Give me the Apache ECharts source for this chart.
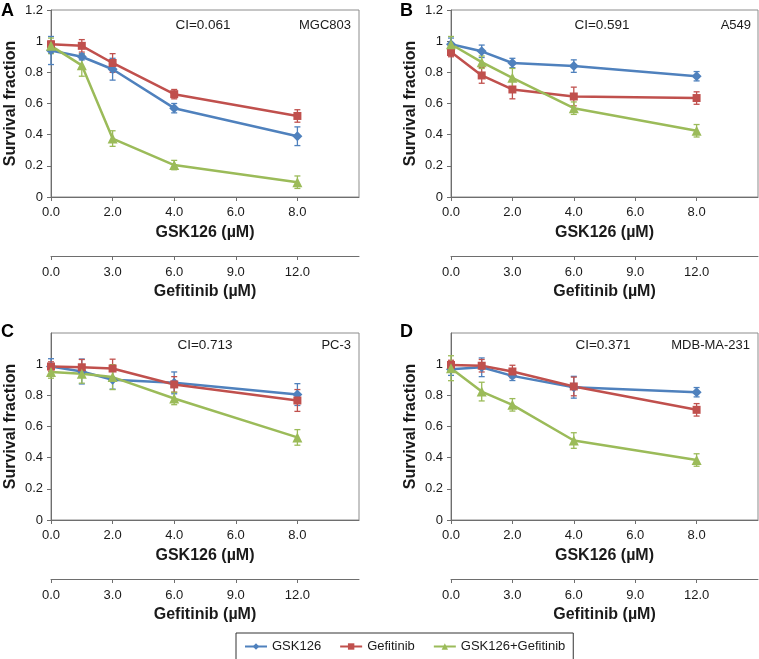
<!DOCTYPE html>
<html><head><meta charset="utf-8">
<script src="https://cdn.jsdelivr.net/npm/echarts@6/dist/echarts.min.js"></script>
<style>html,body{margin:0;padding:0;background:#fff}#c{width:759px;height:659px}</style>
</head><body><div id="c"></div>
<script>
// ---- data ----
const doses = [0, 1, 2, 4, 8];
const seriesNames = ['GSK126', 'Gefitinib', 'GSK126+Gefitinib'];
const panelLetters = ['A', 'B', 'C', 'D'];
const cellLines = ['MGC803', 'A549', 'PC-3', 'MDB-MA-231'];
const ciLabels = ['CI=0.061', 'CI=0.591', 'CI=0.713', 'CI=0.371'];

// Panel A (MGC803)
const aGsk = [0.94, 0.90, 0.82, 0.57, 0.39];
const aGskErr = [0.09, 0.02, 0.07, 0.03, 0.06];
const aGef = [0.98, 0.97, 0.86, 0.66, 0.52];
const aGefErr = [0.02, 0.04, 0.06, 0.03, 0.04];
const aCombo = [0.97, 0.845, 0.375, 0.205, 0.095];
const aComboErr = [0.05, 0.07, 0.05, 0.03, 0.04];
// Panel B (A549)
const bGsk = [0.98, 0.935, 0.86, 0.84, 0.775];
const bGskErr = [0.04, 0.04, 0.03, 0.04, 0.03];
const bGef = [0.93, 0.78, 0.69, 0.645, 0.635];
const bGefErr = [0.03, 0.05, 0.06, 0.06, 0.04];
const bCombo = [0.98, 0.865, 0.765, 0.57, 0.425];
const bComboErr = [0.05, 0.04, 0.06, 0.04, 0.04];
// Panel C (PC-3)
const cGsk = [0.985, 0.953, 0.90, 0.88, 0.805];
const cGskErr = [0.05, 0.08, 0.06, 0.07, 0.07];
const cGef = [0.985, 0.98, 0.972, 0.87, 0.767];
const cGefErr = [0.03, 0.05, 0.06, 0.05, 0.07];
const cCombo = [0.95, 0.938, 0.917, 0.78, 0.53];
const cComboErr = [0.04, 0.06, 0.08, 0.04, 0.05];
// Panel D (MDB-MA-231)
const dGsk = [0.968, 0.98, 0.925, 0.852, 0.82];
const dGskErr = [0.04, 0.06, 0.03, 0.07, 0.03];
const dGef = [0.995, 0.99, 0.953, 0.857, 0.707];
const dGefErr = [0.03, 0.04, 0.04, 0.06, 0.04];
const dCombo = [0.974, 0.824, 0.739, 0.51, 0.385];
const dComboErr = [0.08, 0.06, 0.04, 0.05, 0.04];

const panelValues = [[aGsk, aGef, aCombo], [bGsk, bGef, bCombo], [cGsk, cGef, cCombo], [dGsk, dGef, dCombo]];
const panelErrors = [[aGskErr, aGefErr, aComboErr], [bGskErr, bGefErr, bComboErr], [cGskErr, cGefErr, cComboErr], [dGskErr, dGefErr, dComboErr]];

// ---- styling ----
const FONT = "'Liberation Sans', Arial, sans-serif";
const colors = ['#4F81BD', '#C0504D', '#9BBB59'];
const symbols = ['diamond', 'rect', 'triangle'];
const symbolSizes = [10, 8, 10];
const axisColor = '#6e6e6e';
const textColor = '#1a1a1a';

const grids = [
  {left: 51, top: 10, width: 308, height: 187},
  {left: 451, top: 10, width: 307, height: 187},
  {left: 51, top: 333, width: 308, height: 187},
  {left: 451, top: 333, width: 307, height: 187}
];

const chart = echarts.init(document.getElementById('c'), null, {renderer: 'canvas'});

const xAxes = [], yAxes = [], series = [];
grids.forEach((g, i) => {
  const common = {
    type: 'value', gridIndex: i, position: 'bottom',
    splitLine: {show: false},
    axisLine: {show: true, lineStyle: {color: axisColor, width: 1}},
    axisTick: {show: true, inside: false, length: 4, lineStyle: {color: axisColor}},
    nameLocation: 'middle',
    nameTextStyle: {fontFamily: FONT, fontSize: 16, fontWeight: 'bold', color: textColor}
  };
  xAxes.push(Object.assign({}, common, {
    min: 0, max: 10, interval: 2,
    name: 'GSK126 (µM)', nameGap: 28,
    axisLabel: {formatter: v => v.toFixed(1), showMaxLabel: false, margin: 9,
      fontFamily: FONT, fontSize: 13, color: textColor}
  }));
  xAxes.push(Object.assign({}, common, {
    min: 0, max: 15, interval: 3, offset: 59,
    name: 'Gefitinib (µM)', nameGap: 28,
    axisLabel: {formatter: v => v.toFixed(1), showMaxLabel: false, margin: 10,
      fontFamily: FONT, fontSize: 13, color: textColor}
  }));
  yAxes.push({
    type: 'value', gridIndex: i, min: 0, max: 1.2, interval: 0.2,
    splitLine: {show: false},
    axisLine: {show: true, lineStyle: {color: axisColor, width: 1}},
    axisTick: {show: true, length: 4, lineStyle: {color: axisColor}},
    axisLabel: {formatter: v => String(Math.round(v * 10) / 10), showMaxLabel: i < 2,
      margin: 8, fontFamily: FONT, fontSize: 13, color: textColor},
    name: 'Survival fraction', nameLocation: 'middle', nameGap: 32, nameRotate: 90,
    nameTextStyle: {fontFamily: FONT, fontSize: 16, fontWeight: 'bold', color: textColor}
  });
  for (let s = 0; s < 3; s++) {
    const vals = panelValues[i][s], errs = panelErrors[i][s];
    const col = colors[s];
    series.push({
      name: seriesNames[s] + ' err' + i, type: 'custom',
      xAxisIndex: 2 * i, yAxisIndex: i, z: 3,
      data: doses.map((d, j) => [d, vals[j] - errs[j], vals[j] + errs[j]]),
      encode: {x: 0, y: [1, 2]},
      renderItem: (params, api) => {
        const x = api.value(0);
        const p1 = api.coord([x, api.value(1)]);
        const p2 = api.coord([x, api.value(2)]);
        const w = 3;
        const st = {stroke: col, lineWidth: 1.3};
        return {type: 'group', children: [
          {type: 'line', shape: {x1: p1[0], y1: p1[1], x2: p2[0], y2: p2[1]}, style: st},
          {type: 'line', shape: {x1: p1[0] - w, y1: p1[1], x2: p1[0] + w, y2: p1[1]}, style: st},
          {type: 'line', shape: {x1: p2[0] - w, y1: p2[1], x2: p2[0] + w, y2: p2[1]}, style: st}
        ]};
      }
    });
    series.push({
      name: seriesNames[s], type: 'line', xAxisIndex: 2 * i, yAxisIndex: i, z: 4,
      data: doses.map((d, j) => [d, vals[j]]),
      symbol: symbols[s], symbolSize: symbolSizes[s],
      lineStyle: {color: col, width: 2.5},
      itemStyle: {color: col},
      animation: false
    });
  }
});

const graphics = [];
const letterPos = [[1, 2], [400, 2], [1, 323], [400, 323]];
const ciPos = [[203, 25], [602, 25], [205, 345], [603, 345]];
const cellPos = [[351, 25], [751, 25], [351, 345], [750, 345]];
for (let i = 0; i < 4; i++) {
  graphics.push({type: 'text', left: letterPos[i][0], top: letterPos[i][1],
    style: {text: panelLetters[i], font: 'bold 18px ' + FONT, fill: '#000'}});
  graphics.push({type: 'text', x: ciPos[i][0], y: ciPos[i][1],
    style: {text: ciLabels[i], font: '13.5px ' + FONT, fill: textColor, align: 'center', verticalAlign: 'middle'}});
  graphics.push({type: 'text', x: cellPos[i][0], y: cellPos[i][1],
    style: {text: cellLines[i], font: '13px ' + FONT, fill: textColor, align: 'right', verticalAlign: 'middle'}});
}

chart.setOption({
  animation: false,
  grid: grids.map(g => Object.assign({show: true, borderColor: '#8c8c8c', borderWidth: 1, backgroundColor: 'transparent'}, g)),
  xAxis: xAxes,
  yAxis: yAxes,
  series: series,
  legend: {
    data: seriesNames, left: 236, top: 633,
    orient: 'horizontal',
    itemWidth: 22, itemHeight: 8, itemGap: 18,
    padding: [7, 8], borderColor: '#333', borderWidth: 1,
    textStyle: {fontFamily: FONT, fontSize: 13, color: textColor}
  },
  graphic: graphics
});
</script></body></html>
